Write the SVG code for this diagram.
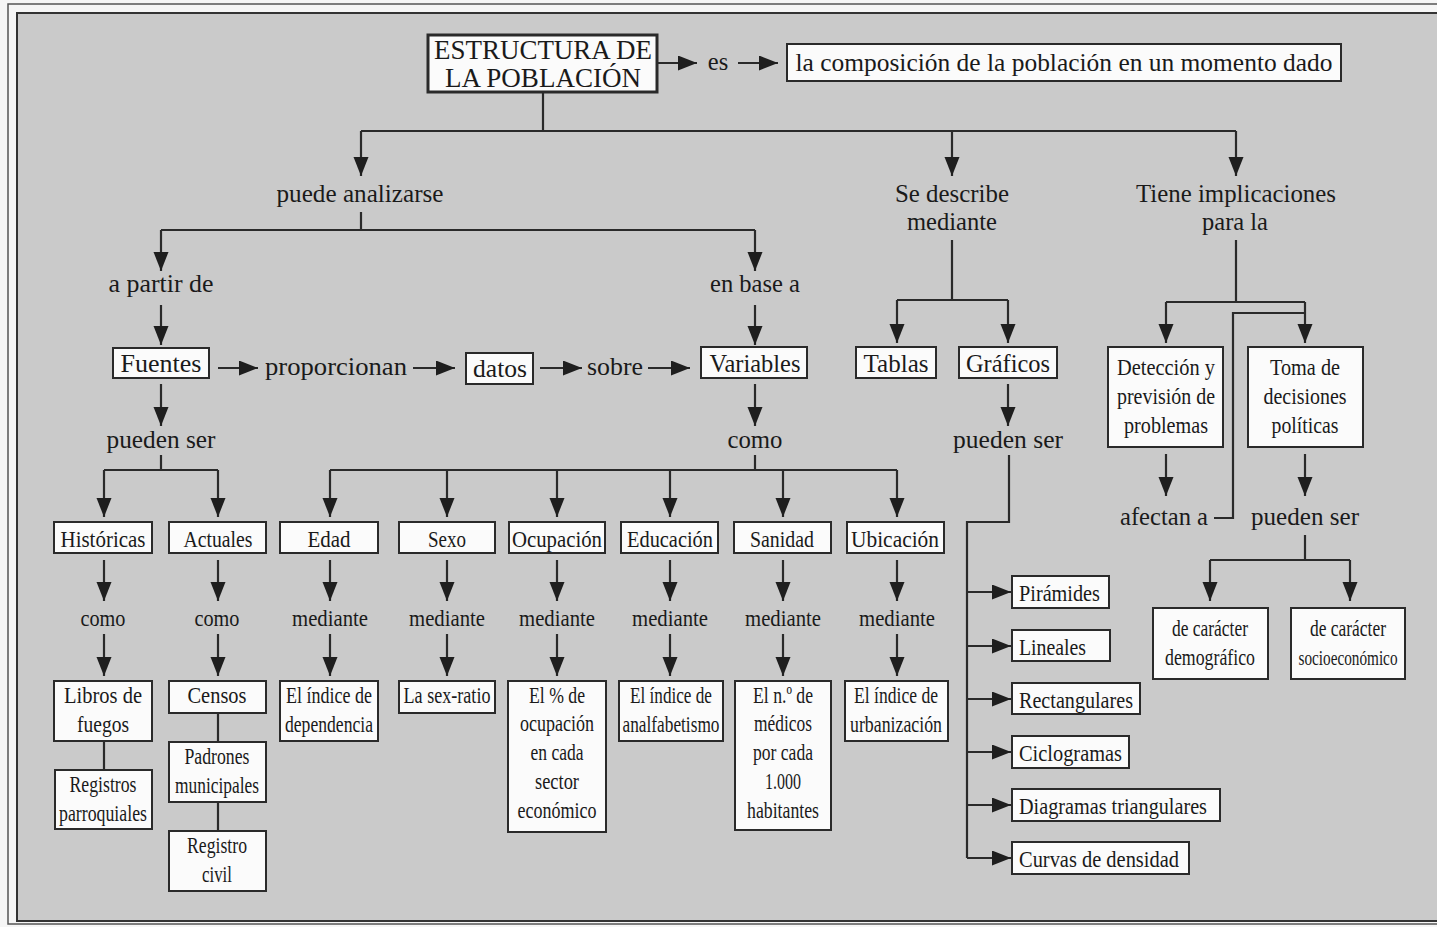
<svg xmlns="http://www.w3.org/2000/svg" width="1437" height="927" viewBox="0 0 1437 927">
<defs>
<style>
text{font-family:"Liberation Serif","Times New Roman",serif;fill:#1a1a1a;font-size:23px;text-anchor:middle}
.l{text-anchor:start}
.t{font-size:28px}
.m{font-size:24.5px}
.f{font-size:26px}
.b rect{fill:#fbfbfb;stroke:#2a2a2a;stroke-width:2}
.c path{fill:none;stroke:#2a2a2a;stroke-width:2.2}
.a{marker-end:url(#ah)}
</style>
<marker id="ah" markerUnits="userSpaceOnUse" markerWidth="20" markerHeight="16" refX="19" refY="7.5" orient="auto">
<path d="M0,0 L19,7.5 L0,15 z" fill="#1e1e1e"/>
</marker>
</defs>
<rect x="0" y="0" width="1437" height="927" fill="#f6f6f6"/>
<rect x="8" y="4" width="1440" height="920" fill="none" stroke="#555" stroke-width="1.5"/>
<rect x="17" y="13" width="1422" height="908" fill="#cacaca" stroke="#333" stroke-width="2"/>

<g class="c" id="connectors">
<path class="a" d="M657,63 H697"/>
<path class="a" d="M738,63 H778"/>
<path d="M543,92 V131 M361,131 H1236"/>
<path class="a" d="M361,131 V176"/>
<path class="a" d="M952,131 V176"/>
<path class="a" d="M1236,131 V176"/>
<path d="M361,212 V230 M161,230 H755"/>
<path class="a" d="M161,230 V271"/>
<path class="a" d="M755,230 V271"/>
<path class="a" d="M161,305 V345"/>
<path class="a" d="M755,305 V345"/>
<path d="M952,240 V300 M897,300 H1008"/>
<path class="a" d="M897,300 V343"/>
<path class="a" d="M1008,300 V343"/>
<path d="M1236,240 V302 M1166,302 H1305"/>
<path class="a" d="M1166,302 V343"/>
<path class="a" d="M1305,302 V343"/>
<path d="M1214,518 H1233 V313 H1305"/>
<path class="a" d="M218,368 H258"/>
<path class="a" d="M413,368 H455"/>
<path class="a" d="M540,368 H582"/>
<path class="a" d="M648,368 H690"/>
<path class="a" d="M161,384 V426"/>
<path class="a" d="M755,384 V426"/>
<path class="a" d="M1008,384 V426"/>
<path class="a" d="M1166,454 V496"/>
<path class="a" d="M1305,454 V496"/>
<path d="M161,455 V470 M104,470 H218"/>
<path class="a" d="M104,470 V517"/>
<path class="a" d="M218,470 V517"/>
<path d="M755,455 V470 M330,470 H897"/>
<path class="a" d="M330,470 V517"/>
<path class="a" d="M447,470 V517"/>
<path class="a" d="M557,470 V517"/>
<path class="a" d="M670,470 V517"/>
<path class="a" d="M783,470 V517"/>
<path class="a" d="M897,470 V517"/>
<path class="a" d="M104,560 V601"/>
<path class="a" d="M218,560 V601"/>
<path class="a" d="M330,560 V601"/>
<path class="a" d="M447,560 V601"/>
<path class="a" d="M557,560 V601"/>
<path class="a" d="M670,560 V601"/>
<path class="a" d="M783,560 V601"/>
<path class="a" d="M897,560 V601"/>
<path class="a" d="M104,634 V676"/>
<path class="a" d="M218,634 V676"/>
<path class="a" d="M330,634 V676"/>
<path class="a" d="M447,634 V676"/>
<path class="a" d="M557,634 V676"/>
<path class="a" d="M670,634 V676"/>
<path class="a" d="M783,634 V676"/>
<path class="a" d="M897,634 V676"/>
<path d="M104,741 V770 M218,713 V742 M218,802 V831"/>
<path d="M1305,535 V560 M1210,560 H1350"/>
<path class="a" d="M1210,560 V601"/>
<path class="a" d="M1350,560 V601"/>
<path d="M1009,455 V522 H967 V858"/>
<path class="a" d="M967,592 H1011"/>
<path class="a" d="M967,646 H1011"/>
<path class="a" d="M967,699 H1011"/>
<path class="a" d="M967,752 H1011"/>
<path class="a" d="M967,805 H1011"/>
<path class="a" d="M967,858 H1011"/>
</g>

<g id="n-titulo" class="b"><rect x="428" y="35" width="229" height="57" style="stroke-width:3"/><text class="t" x="543" y="59" textLength="218" lengthAdjust="spacingAndGlyphs">ESTRUCTURA DE</text><text class="t" x="543" y="87" textLength="196" lengthAdjust="spacingAndGlyphs">LA POBLACIÓN</text></g>
<g id="l-es"><text class="m" x="718" y="70">es</text></g>
<g id="n-composicion" class="b"><rect x="787" y="44" width="554" height="37"/><text x="1064" y="71" style="font-size:25px" textLength="537" lengthAdjust="spacingAndGlyphs">la composición de la población en un momento dado</text></g>
<g id="l-analizarse"><text class="m" x="360" y="202" textLength="167" lengthAdjust="spacingAndGlyphs">puede analizarse</text></g>
<g id="l-describe"><text class="m" x="952" y="202" textLength="114" lengthAdjust="spacingAndGlyphs">Se describe</text><text class="m" x="952" y="230" textLength="90" lengthAdjust="spacingAndGlyphs">mediante</text></g>
<g id="l-implicaciones"><text class="m" x="1236" y="202" textLength="200" lengthAdjust="spacingAndGlyphs">Tiene implicaciones</text><text class="m" x="1235" y="230" textLength="66" lengthAdjust="spacingAndGlyphs">para la</text></g>
<g id="l-apartir"><text class="m" x="161" y="292" textLength="105" lengthAdjust="spacingAndGlyphs">a partir de</text></g>
<g id="l-enbase"><text class="m" x="755" y="292" textLength="90" lengthAdjust="spacingAndGlyphs">en base a</text></g>

<g id="n-fuentes" class="b"><rect x="113" y="348" width="96" height="30"/><text class="f" x="161" y="372" textLength="81" lengthAdjust="spacingAndGlyphs">Fuentes</text></g>
<g id="l-proporcionan"><text class="f" x="336" y="375" textLength="142" lengthAdjust="spacingAndGlyphs">proporcionan</text></g>
<g id="n-datos" class="b"><rect x="466" y="353" width="67" height="31"/><text class="f" x="500" y="377" textLength="54" lengthAdjust="spacingAndGlyphs">datos</text></g>
<g id="l-sobre"><text class="f" x="615" y="375" textLength="56" lengthAdjust="spacingAndGlyphs">sobre</text></g>
<g id="n-variables" class="b"><rect x="701" y="347" width="106" height="31"/><text class="f" x="755" y="372" textLength="91" lengthAdjust="spacingAndGlyphs">Variables</text></g>
<g id="n-tablas" class="b"><rect x="856" y="347" width="80" height="31"/><text class="f" x="896" y="372" textLength="65" lengthAdjust="spacingAndGlyphs">Tablas</text></g>
<g id="n-graficos" class="b"><rect x="959" y="347" width="98" height="31"/><text class="f" x="1008" y="372" textLength="84" lengthAdjust="spacingAndGlyphs">Gráficos</text></g>
<g id="n-deteccion" class="b"><rect x="1108" y="347" width="115" height="100"/><text x="1166" y="375" textLength="98" lengthAdjust="spacingAndGlyphs">Detección y</text><text x="1166" y="404" textLength="98" lengthAdjust="spacingAndGlyphs">previsión de</text><text x="1166" y="433" textLength="84" lengthAdjust="spacingAndGlyphs">problemas</text></g>
<g id="n-toma" class="b"><rect x="1248" y="347" width="115" height="100"/><text x="1305" y="375" textLength="70" lengthAdjust="spacingAndGlyphs">Toma de</text><text x="1305" y="404" textLength="83" lengthAdjust="spacingAndGlyphs">decisiones</text><text x="1305" y="433" textLength="67" lengthAdjust="spacingAndGlyphs">políticas</text></g>

<g id="l-puedenser1"><text class="m" x="161" y="448" textLength="109" lengthAdjust="spacingAndGlyphs">pueden ser</text></g>
<g id="l-como0"><text class="m" x="755" y="448" textLength="55" lengthAdjust="spacingAndGlyphs">como</text></g>
<g id="l-puedenser2"><text class="m" x="1008" y="448" textLength="110" lengthAdjust="spacingAndGlyphs">pueden ser</text></g>
<g id="l-afectan"><text class="m" x="1164" y="525" textLength="88" lengthAdjust="spacingAndGlyphs">afectan a</text></g>
<g id="l-puedenser3"><text class="m" x="1305" y="525" textLength="108" lengthAdjust="spacingAndGlyphs">pueden ser</text></g>

<g id="n-historicas" class="b"><rect x="54" y="522" width="98" height="31"/><text x="103" y="547" textLength="85" lengthAdjust="spacingAndGlyphs">Históricas</text></g>
<g id="n-actuales" class="b"><rect x="169" y="522" width="97" height="31"/><text x="218" y="547" textLength="69" lengthAdjust="spacingAndGlyphs">Actuales</text></g>
<g id="n-edad" class="b"><rect x="280" y="522" width="98" height="31"/><text x="329" y="547" textLength="43" lengthAdjust="spacingAndGlyphs">Edad</text></g>
<g id="n-sexo" class="b"><rect x="399" y="522" width="96" height="31"/><text x="447" y="547" textLength="38" lengthAdjust="spacingAndGlyphs">Sexo</text></g>
<g id="n-ocupacion" class="b"><rect x="509" y="522" width="96" height="31"/><text x="557" y="547" textLength="90" lengthAdjust="spacingAndGlyphs">Ocupación</text></g>
<g id="n-educacion" class="b"><rect x="621" y="522" width="97" height="31"/><text x="670" y="547" textLength="86" lengthAdjust="spacingAndGlyphs">Educación</text></g>
<g id="n-sanidad" class="b"><rect x="734" y="522" width="97" height="31"/><text x="782" y="547" textLength="64" lengthAdjust="spacingAndGlyphs">Sanidad</text></g>
<g id="n-ubicacion" class="b"><rect x="847" y="522" width="97" height="31"/><text x="895" y="547" textLength="88" lengthAdjust="spacingAndGlyphs">Ubicación</text></g>

<g id="l-row-mid">
<text x="103" y="626" textLength="45" lengthAdjust="spacingAndGlyphs">como</text>
<text x="217" y="626" textLength="45" lengthAdjust="spacingAndGlyphs">como</text>
<text x="330" y="626" textLength="76" lengthAdjust="spacingAndGlyphs">mediante</text>
<text x="447" y="626" textLength="76" lengthAdjust="spacingAndGlyphs">mediante</text>
<text x="557" y="626" textLength="76" lengthAdjust="spacingAndGlyphs">mediante</text>
<text x="670" y="626" textLength="76" lengthAdjust="spacingAndGlyphs">mediante</text>
<text x="783" y="626" textLength="76" lengthAdjust="spacingAndGlyphs">mediante</text>
<text x="897" y="626" textLength="76" lengthAdjust="spacingAndGlyphs">mediante</text>
</g>

<g id="n-libros" class="b"><rect x="54" y="681" width="98" height="60"/><text x="103" y="703" textLength="78" lengthAdjust="spacingAndGlyphs">Libros de</text><text x="103" y="732" textLength="52" lengthAdjust="spacingAndGlyphs">fuegos</text></g>
<g id="n-registros" class="b"><rect x="55" y="770" width="97" height="59"/><text x="103" y="792" textLength="67" lengthAdjust="spacingAndGlyphs">Registros</text><text x="103" y="821" textLength="88" lengthAdjust="spacingAndGlyphs">parroquiales</text></g>
<g id="n-censos" class="b"><rect x="169" y="681" width="97" height="32"/><text x="217" y="703" textLength="59" lengthAdjust="spacingAndGlyphs">Censos</text></g>
<g id="n-padrones" class="b"><rect x="169" y="742" width="97" height="60"/><text x="217" y="764" textLength="65" lengthAdjust="spacingAndGlyphs">Padrones</text><text x="217" y="793" textLength="84" lengthAdjust="spacingAndGlyphs">municipales</text></g>
<g id="n-registrocivil" class="b"><rect x="169" y="831" width="97" height="60"/><text x="217" y="853" textLength="60" lengthAdjust="spacingAndGlyphs">Registro</text><text x="217" y="882" textLength="30" lengthAdjust="spacingAndGlyphs">civil</text></g>
<g id="n-dependencia" class="b"><rect x="280" y="681" width="98" height="60"/><text x="329" y="703" textLength="86" lengthAdjust="spacingAndGlyphs">El índice de</text><text x="329" y="732" textLength="88" lengthAdjust="spacingAndGlyphs">dependencia</text></g>
<g id="n-sexratio" class="b"><rect x="399" y="681" width="96" height="32"/><text x="447" y="703" textLength="87" lengthAdjust="spacingAndGlyphs">La sex-ratio</text></g>
<g id="n-pocupacion" class="b"><rect x="508" y="681" width="98" height="151"/><text x="557" y="703" textLength="56" lengthAdjust="spacingAndGlyphs">El % de</text><text x="557" y="731" textLength="74" lengthAdjust="spacingAndGlyphs">ocupación</text><text x="557" y="760" textLength="53" lengthAdjust="spacingAndGlyphs">en cada</text><text x="557" y="789" textLength="44" lengthAdjust="spacingAndGlyphs">sector</text><text x="557" y="818" textLength="79" lengthAdjust="spacingAndGlyphs">económico</text></g>
<g id="n-analfabetismo" class="b"><rect x="619" y="681" width="104" height="60"/><text x="671" y="703" textLength="82" lengthAdjust="spacingAndGlyphs">El índice de</text><text x="671" y="732" textLength="97" lengthAdjust="spacingAndGlyphs">analfabetismo</text></g>
<g id="n-medicos" class="b"><rect x="735" y="681" width="96" height="149"/><text x="783" y="703" textLength="60" lengthAdjust="spacingAndGlyphs">El n.º de</text><text x="783" y="731" textLength="58" lengthAdjust="spacingAndGlyphs">médicos</text><text x="783" y="760" textLength="60" lengthAdjust="spacingAndGlyphs">por cada</text><text x="783" y="789" textLength="36" lengthAdjust="spacingAndGlyphs">1.000</text><text x="783" y="818" textLength="72" lengthAdjust="spacingAndGlyphs">habitantes</text></g>
<g id="n-urbanizacion" class="b"><rect x="845" y="681" width="103" height="60"/><text x="896" y="703" textLength="84" lengthAdjust="spacingAndGlyphs">El índice de</text><text x="896" y="732" textLength="92" lengthAdjust="spacingAndGlyphs">urbanización</text></g>

<g id="n-demografico" class="b"><rect x="1153" y="608" width="115" height="71"/><text x="1210" y="636" textLength="76" lengthAdjust="spacingAndGlyphs">de carácter</text><text x="1210" y="665" textLength="90" lengthAdjust="spacingAndGlyphs">demográfico</text></g>
<g id="n-socioeconomico" class="b"><rect x="1291" y="608" width="114" height="71"/><text x="1348" y="636" textLength="76" lengthAdjust="spacingAndGlyphs">de carácter</text><text x="1348" y="665" style="font-size:21px" textLength="99" lengthAdjust="spacingAndGlyphs">socioeconómico</text></g>

<g id="n-piramides" class="b"><rect x="1012" y="576" width="97" height="32"/><text class="l" x="1019" y="601" textLength="81" lengthAdjust="spacingAndGlyphs">Pirámides</text></g>
<g id="n-lineales" class="b"><rect x="1012" y="630" width="98" height="31"/><text class="l" x="1019" y="655" textLength="67" lengthAdjust="spacingAndGlyphs">Lineales</text></g>
<g id="n-rectangulares" class="b"><rect x="1012" y="683" width="128" height="31"/><text class="l" x="1019" y="708" textLength="114" lengthAdjust="spacingAndGlyphs">Rectangulares</text></g>
<g id="n-ciclogramas" class="b"><rect x="1012" y="736" width="117" height="32"/><text class="l" x="1019" y="761" textLength="103" lengthAdjust="spacingAndGlyphs">Ciclogramas</text></g>
<g id="n-diagramas" class="b"><rect x="1012" y="789" width="208" height="32"/><text class="l" x="1019" y="814" textLength="188" lengthAdjust="spacingAndGlyphs">Diagramas triangulares</text></g>
<g id="n-curvas" class="b"><rect x="1012" y="842" width="177" height="32"/><text class="l" x="1019" y="867" textLength="160" lengthAdjust="spacingAndGlyphs">Curvas de densidad</text></g>
</svg>
